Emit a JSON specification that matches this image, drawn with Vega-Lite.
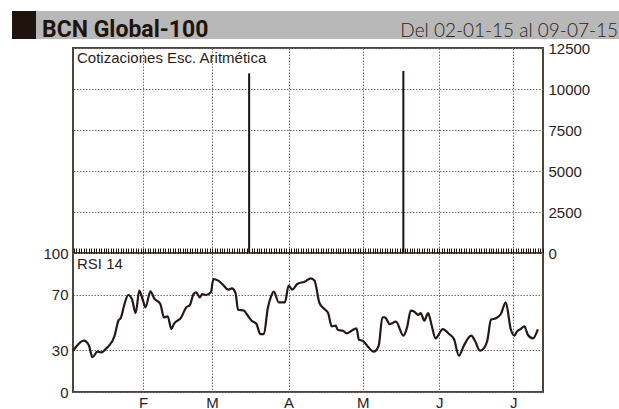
{
  "$schema": "https://vega.github.io/schema/vega-lite/v6.json",
  "padding": {"left": 12, "top": 11, "right": 0, "bottom": 0},
  "background": "white",
  "config": {
    "font": "Liberation Sans",
    "view": {"stroke": "#4d443e", "strokeWidth": 2},
    "axis": {"labelFont": "Liberation Sans", "labelFontSize": 15, "labelColor": "#2b2320", "title": null, "gridColor": "#6f6f6f", "gridDash": [1.5, 1.5], "gridWidth": 1, "ticks": false, "domain": false}
  },
  "datasets": {
    "price": [
      {"date": "2015-03-16T00:00:00Z", "price": 10950},
      {"date": "2015-05-17T12:00:00Z", "price": 11100}
    ],
    "rsi": [
      {"date": "2015-01-03T15:00:00Z", "rsi": 29.5},
      {"date": "2015-01-08T00:00:00Z", "rsi": 36.9},
      {"date": "2015-01-10T00:00:00Z", "rsi": 33.8},
      {"date": "2015-01-11T12:00:00Z", "rsi": 25},
      {"date": "2015-01-13T12:00:00Z", "rsi": 29},
      {"date": "2015-01-15T00:00:00Z", "rsi": 28.5},
      {"date": "2015-01-17T12:00:00Z", "rsi": 32},
      {"date": "2015-01-20T12:00:00Z", "rsi": 40.5},
      {"date": "2015-01-22T00:00:00Z", "rsi": 51.3},
      {"date": "2015-01-23T00:00:00Z", "rsi": 53.2},
      {"date": "2015-01-24T12:00:00Z", "rsi": 63.3},
      {"date": "2015-01-26T00:00:00Z", "rsi": 69.8},
      {"date": "2015-01-27T12:00:00Z", "rsi": 66.9},
      {"date": "2015-01-29T00:00:00Z", "rsi": 56.8},
      {"date": "2015-01-30T12:00:00Z", "rsi": 72.9},
      {"date": "2015-02-01T00:00:00Z", "rsi": 65.7},
      {"date": "2015-02-02T00:00:00Z", "rsi": 60.9},
      {"date": "2015-02-04T00:00:00Z", "rsi": 72.4},
      {"date": "2015-02-05T12:00:00Z", "rsi": 67.4},
      {"date": "2015-02-08T00:00:00Z", "rsi": 63.3},
      {"date": "2015-02-09T12:00:00Z", "rsi": 53.7},
      {"date": "2015-02-11T00:00:00Z", "rsi": 54.4},
      {"date": "2015-02-12T12:00:00Z", "rsi": 45.3},
      {"date": "2015-02-13T12:00:00Z", "rsi": 48.9},
      {"date": "2015-02-16T12:00:00Z", "rsi": 53.7},
      {"date": "2015-02-18T12:00:00Z", "rsi": 60.9},
      {"date": "2015-02-20T00:00:00Z", "rsi": 62.6},
      {"date": "2015-02-21T12:00:00Z", "rsi": 70.5},
      {"date": "2015-02-22T12:00:00Z", "rsi": 71.7},
      {"date": "2015-02-24T00:00:00Z", "rsi": 68.1},
      {"date": "2015-02-25T00:00:00Z", "rsi": 70.5},
      {"date": "2015-02-26T12:00:00Z", "rsi": 69.8},
      {"date": "2015-02-28T12:00:00Z", "rsi": 71.7},
      {"date": "2015-03-01T12:00:00Z", "rsi": 81.3},
      {"date": "2015-03-03T12:00:00Z", "rsi": 80.1},
      {"date": "2015-03-05T12:00:00Z", "rsi": 77},
      {"date": "2015-03-07T12:00:00Z", "rsi": 73.6},
      {"date": "2015-03-09T00:00:00Z", "rsi": 74.6},
      {"date": "2015-03-10T12:00:00Z", "rsi": 71.2},
      {"date": "2015-03-11T12:00:00Z", "rsi": 59.2},
      {"date": "2015-03-14T00:00:00Z", "rsi": 58.5},
      {"date": "2015-03-15T00:00:00Z", "rsi": 56.1},
      {"date": "2015-03-17T00:00:00Z", "rsi": 51.3},
      {"date": "2015-03-19T00:00:00Z", "rsi": 48.9},
      {"date": "2015-03-20T12:00:00Z", "rsi": 41.7},
      {"date": "2015-03-22T00:00:00Z", "rsi": 41.7},
      {"date": "2015-03-23T12:00:00Z", "rsi": 59.7},
      {"date": "2015-03-25T00:00:00Z", "rsi": 69.3},
      {"date": "2015-03-26T00:00:00Z", "rsi": 72.2},
      {"date": "2015-03-28T00:00:00Z", "rsi": 64.5},
      {"date": "2015-03-30T12:00:00Z", "rsi": 64.5},
      {"date": "2015-04-01T00:00:00Z", "rsi": 76.5},
      {"date": "2015-04-02T12:00:00Z", "rsi": 73.6},
      {"date": "2015-04-04T12:00:00Z", "rsi": 77.7},
      {"date": "2015-04-07T12:00:00Z", "rsi": 79.4},
      {"date": "2015-04-10T00:00:00Z", "rsi": 81.8},
      {"date": "2015-04-11T12:00:00Z", "rsi": 80.1},
      {"date": "2015-04-13T12:00:00Z", "rsi": 64},
      {"date": "2015-04-15T12:00:00Z", "rsi": 59.7},
      {"date": "2015-04-17T00:00:00Z", "rsi": 56.8},
      {"date": "2015-04-18T12:00:00Z", "rsi": 47.2},
      {"date": "2015-04-20T00:00:00Z", "rsi": 47.7},
      {"date": "2015-04-21T00:00:00Z", "rsi": 44.6},
      {"date": "2015-04-23T00:00:00Z", "rsi": 44.1},
      {"date": "2015-04-24T12:00:00Z", "rsi": 42.2},
      {"date": "2015-04-26T12:00:00Z", "rsi": 44.1},
      {"date": "2015-04-28T12:00:00Z", "rsi": 45.8},
      {"date": "2015-04-29T12:00:00Z", "rsi": 37.6},
      {"date": "2015-05-01T00:00:00Z", "rsi": 36.9},
      {"date": "2015-05-03T00:00:00Z", "rsi": 32.9},
      {"date": "2015-05-05T12:00:00Z", "rsi": 29},
      {"date": "2015-05-07T12:00:00Z", "rsi": 33.3},
      {"date": "2015-05-09T00:00:00Z", "rsi": 53.7},
      {"date": "2015-05-10T00:00:00Z", "rsi": 53.7},
      {"date": "2015-05-12T00:00:00Z", "rsi": 48.9},
      {"date": "2015-05-14T12:00:00Z", "rsi": 50.6},
      {"date": "2015-05-17T12:00:00Z", "rsi": 40.5},
      {"date": "2015-05-19T00:00:00Z", "rsi": 46.5},
      {"date": "2015-05-20T12:00:00Z", "rsi": 58.5},
      {"date": "2015-05-22T00:00:00Z", "rsi": 57.8},
      {"date": "2015-05-23T12:00:00Z", "rsi": 55.4},
      {"date": "2015-05-24T12:00:00Z", "rsi": 56.8},
      {"date": "2015-05-26T00:00:00Z", "rsi": 51.3},
      {"date": "2015-05-27T12:00:00Z", "rsi": 56.8},
      {"date": "2015-05-29T00:00:00Z", "rsi": 47.7},
      {"date": "2015-05-30T12:00:00Z", "rsi": 38.6},
      {"date": "2015-06-02T12:00:00Z", "rsi": 45.3},
      {"date": "2015-06-05T00:00:00Z", "rsi": 41.7},
      {"date": "2015-06-07T00:00:00Z", "rsi": 38.1},
      {"date": "2015-06-09T00:00:00Z", "rsi": 26.1},
      {"date": "2015-06-11T00:00:00Z", "rsi": 33.3},
      {"date": "2015-06-14T00:00:00Z", "rsi": 40.5},
      {"date": "2015-06-15T12:00:00Z", "rsi": 36.9},
      {"date": "2015-06-17T12:00:00Z", "rsi": 29.7},
      {"date": "2015-06-18T12:00:00Z", "rsi": 30.4},
      {"date": "2015-06-20T12:00:00Z", "rsi": 36.9},
      {"date": "2015-06-22T00:00:00Z", "rsi": 52},
      {"date": "2015-06-24T00:00:00Z", "rsi": 53},
      {"date": "2015-06-26T00:00:00Z", "rsi": 56.1},
      {"date": "2015-06-28T00:00:00Z", "rsi": 64.5},
      {"date": "2015-06-30T00:00:00Z", "rsi": 45.3},
      {"date": "2015-07-01T12:00:00Z", "rsi": 40.5},
      {"date": "2015-07-02T12:00:00Z", "rsi": 43.4},
      {"date": "2015-07-04T00:00:00Z", "rsi": 45.3},
      {"date": "2015-07-05T12:00:00Z", "rsi": 47.2},
      {"date": "2015-07-07T00:00:00Z", "rsi": 41},
      {"date": "2015-07-09T00:00:00Z", "rsi": 38.6},
      {"date": "2015-07-11T00:00:00Z", "rsi": 45.1}
    ]
  },
  "spacing": -2,
  "vconcat": [
    {
      "spacing": 0,
      "hconcat": [
        {
          "width": 24, "height": 28,
          "view": {"fill": "#1e130d", "stroke": null},
          "data": {"values": [{"t": ""}]},
          "mark": {"type": "text"},
          "encoding": {"text": {"field": "t"}}
        },
        {
          "width": 583, "height": 28,
          "view": {"fill": "#b8b8b8", "stroke": null},
          "layer": [
            {
              "data": {"values": [{"label": "BCN Global-100", "pos": 0}]},
              "mark": {"type": "text", "align": "left", "baseline": "alphabetic", "dx": 6, "dy": 12, "font": "Roboto", "fontWeight": "bold", "fontSize": 23, "color": "#1e130d"},
              "encoding": {
                "x": {"field": "pos", "type": "quantitative", "scale": {"domain": [0, 1]}, "axis": null},
                "text": {"field": "label"}
              }
            },
            {
              "data": {"values": [{"label": "Del 02-01-15 al 09-07-15", "pos": 1}]},
              "mark": {"type": "text", "align": "right", "baseline": "alphabetic", "dx": -1, "dy": 12, "font": "Lato", "fontWeight": 300, "fontSize": 19, "color": "#2b2320"},
              "encoding": {
                "x": {"field": "pos", "type": "quantitative", "scale": {"domain": [0, 1]}, "axis": null},
                "text": {"field": "label"}
              }
            }
          ]
        }
      ]
    },
    {
      "spacing": 0,
      "hconcat": [
        {
          "width": 1, "height": 1,
          "view": {"stroke": null},
          "data": {"values": [{"t": ""}]},
          "mark": {"type": "text"},
          "encoding": {"text": {"field": "t"}}
        },
        {
          "spacing": 0,
          "bounds": "flush",
          "vconcat": [
            {
              "width": 470, "height": 205,
              "layer": [
                {
                  "data": {"name": "price"},
                  "mark": {"type": "rule", "color": "#1a1210", "strokeWidth": 2},
                  "encoding": {
                    "x": {"field": "date", "type": "temporal",
                      "scale": {"type": "utc", "domain": [{"year": 2015, "month": 1, "date": 3, "hours": 15, "utc": true}, {"year": 2015, "month": 7, "date": 13, "hours": 2, "utc": true}]},
                      "axis": {"values": [{"year": 2015, "month": 2, "date": 1, "utc": true}, {"year": 2015, "month": 3, "date": 1, "utc": true}, {"year": 2015, "month": 4, "date": 1, "utc": true}, {"year": 2015, "month": 5, "date": 1, "utc": true}, {"year": 2015, "month": 6, "date": 1, "utc": true}, {"year": 2015, "month": 7, "date": 1, "utc": true}], "labels": false, "grid": true}},
                    "y": {"field": "price", "type": "quantitative", "scale": {"domain": [0, 12500], "nice": false},
                      "axis": {"orient": "right", "values": [0, 2500, 5000, 7500, 10000, 12500], "format": "d", "grid": true, "labelPadding": 5}},
                    "y2": {"datum": 0}
                  }
                },
                {
                  "data": {"values": [{"label": "Cotizaciones Esc. Aritmética", "date": "2015-01-03T15:00:00Z", "v": 12500}]},
                  "mark": {"type": "text", "align": "left", "baseline": "top", "dx": 4, "dy": 3, "fontSize": 15, "color": "#2b2320"},
                  "encoding": {
                    "x": {"field": "date", "type": "temporal", "scale": {"type": "utc", "domain": [{"year": 2015, "month": 1, "date": 3, "hours": 15, "utc": true}, {"year": 2015, "month": 7, "date": 13, "hours": 2, "utc": true}]}, "axis": null},
                    "y": {"field": "v", "type": "quantitative", "scale": {"domain": [0, 12500], "nice": false}, "axis": null},
                    "text": {"field": "label"}
                  }
                }
              ],
              "resolve": {"axis": {"x": "independent", "y": "independent"}}
            },
            {
              "width": 470, "height": 139,
              "layer": [
                {
                  "data": {"name": "rsi"},
                  "mark": {"type": "line", "color": "#231815", "strokeWidth": 2.2, "interpolate": "monotone"},
                  "encoding": {
                    "x": {"field": "date", "type": "temporal",
                      "scale": {"type": "utc", "domain": [{"year": 2015, "month": 1, "date": 3, "hours": 15, "utc": true}, {"year": 2015, "month": 7, "date": 13, "hours": 2, "utc": true}]},
                      "axis": {"values": [{"year": 2015, "month": 2, "date": 1, "utc": true}, {"year": 2015, "month": 3, "date": 1, "utc": true}, {"year": 2015, "month": 4, "date": 1, "utc": true}, {"year": 2015, "month": 5, "date": 1, "utc": true}, {"year": 2015, "month": 6, "date": 1, "utc": true}, {"year": 2015, "month": 7, "date": 1, "utc": true}], "labelExpr": "['E','F','M','A','M','J','J','A','S','O','N','D'][utcmonth(datum.value)]", "grid": true, "labelPadding": 3}},
                    "y": {"field": "rsi", "type": "quantitative", "scale": {"domain": [0, 100], "nice": false},
                      "axis": {"values": [0, 30, 70, 100], "grid": true, "labelPadding": 5, "minExtent": 59, "maxExtent": 59}}
                  }
                },
                {
                  "data": {"values": [{"label": "RSI 14", "date": "2015-01-03T15:00:00Z", "v": 100}]},
                  "mark": {"type": "text", "align": "left", "baseline": "top", "dx": 4, "dy": 4, "fontSize": 15, "color": "#2b2320"},
                  "encoding": {
                    "x": {"field": "date", "type": "temporal",
                      "scale": {"type": "utc", "domain": [{"year": 2015, "month": 1, "date": 3, "hours": 15, "utc": true}, {"year": 2015, "month": 7, "date": 13, "hours": 2, "utc": true}]},
                      "axis": {"orient": "top", "labels": false, "grid": false, "ticks": true, "tickSize": 5, "tickColor": "#1e130d", "tickWidth": 1, "tickCount": {"interval": "day", "step": 1}, "domain": false, "zindex": 2}},
                    "y": {"field": "v", "type": "quantitative", "scale": {"domain": [0, 100], "nice": false}, "axis": null},
                    "text": {"field": "label"}
                  }
                }
              ],
              "resolve": {"axis": {"x": "independent", "y": "independent"}}
            }
          ]
        }
      ]
    }
  ]
}
